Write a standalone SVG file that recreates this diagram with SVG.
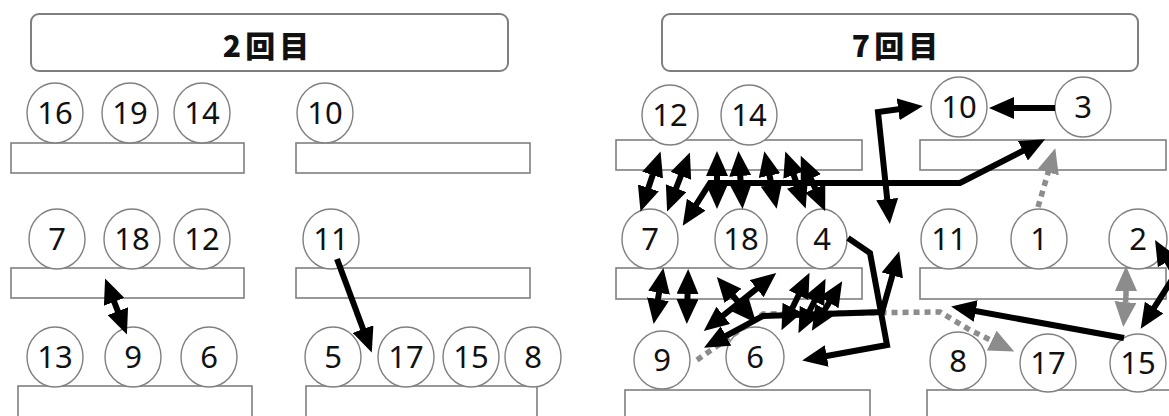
<svg xmlns="http://www.w3.org/2000/svg" width="1169" height="416" viewBox="0 0 1169 416">
<defs>
<style>
.title{fill:#fff;stroke:#7f7f7f;stroke-width:2}
.tt{font-family:"Noto Sans CJK JP","Noto Sans",sans-serif;font-weight:900;font-size:30px;letter-spacing:4px;text-anchor:middle;fill:#111}
.bar{fill:#fff;stroke:#7f7f7f;stroke-width:1.6}
.p ellipse{fill:#fff;stroke:#808080;stroke-width:1.4}
.p text{font-family:"Noto Sans","Open Sans",sans-serif;font-size:31px;text-anchor:middle;fill:#111}
.a{fill:none;stroke:#000;stroke-width:6;stroke-linejoin:miter}
.s{marker-end:url(#ah)}
.d{marker-start:url(#ah);marker-end:url(#ah)}
.g{fill:none;stroke:#8c8c8c;stroke-width:5.5;stroke-dasharray:6 5}
</style>
<marker id="ah" viewBox="0 0 25 22" refX="17" refY="11" markerWidth="25" markerHeight="22" markerUnits="userSpaceOnUse" orient="auto-start-reverse"><path d="M0,0 L25,11 L0,22 z" fill="#000"/></marker>
<marker id="gh" viewBox="0 0 25 22" refX="17" refY="11" markerWidth="25" markerHeight="22" markerUnits="userSpaceOnUse" orient="auto-start-reverse"><path d="M0,0 L25,11 L0,22 z" fill="#8c8c8c"/></marker>
</defs>
<rect width="1169" height="416" fill="#fff"/>

<!-- Left panel -->
<g id="title-2"><rect class="title" x="31" y="14" width="477" height="57" rx="8"/><text class="tt" x="268" y="57">2回目</text></g>
<g id="bars-left">
<rect class="bar" x="11" y="143" width="233" height="30"/>
<rect class="bar" x="296" y="143" width="234" height="30"/>
<rect class="bar" x="11" y="268" width="233" height="30"/>
<rect class="bar" x="296" y="268" width="234" height="30"/>
<rect class="bar" x="18" y="386" width="234" height="40"/>
<rect class="bar" x="306" y="386" width="231" height="40"/>
</g>
<g id="l16" class="p"><ellipse cx="55" cy="113" rx="28" ry="30"/><text x="55" y="124">16</text></g>
<g id="l19" class="p"><ellipse cx="130" cy="113" rx="28" ry="30"/><text x="130" y="124">19</text></g>
<g id="l14" class="p"><ellipse cx="202" cy="113" rx="28" ry="30"/><text x="202" y="124">14</text></g>
<g id="l10" class="p"><ellipse cx="325" cy="113" rx="28" ry="30"/><text x="325" y="124">10</text></g>
<g id="l7" class="p"><ellipse cx="57" cy="239" rx="28" ry="30"/><text x="57" y="250">7</text></g>
<g id="l18" class="p"><ellipse cx="132" cy="239" rx="28" ry="30"/><text x="132" y="250">18</text></g>
<g id="l12" class="p"><ellipse cx="202" cy="239" rx="28" ry="30"/><text x="202" y="250">12</text></g>
<g id="l11" class="p"><ellipse cx="331" cy="239" rx="28" ry="30"/><text x="331" y="250">11</text></g>
<g id="l13" class="p"><ellipse cx="55" cy="357" rx="28" ry="30"/><text x="55" y="368">13</text></g>
<g id="l9" class="p"><ellipse cx="133" cy="357" rx="28" ry="30"/><text x="133" y="368">9</text></g>
<g id="l6" class="p"><ellipse cx="209" cy="357" rx="28" ry="30"/><text x="209" y="368">6</text></g>
<g id="l5" class="p"><ellipse cx="333" cy="357" rx="28" ry="30"/><text x="333" y="368">5</text></g>
<g id="l17" class="p"><ellipse cx="406" cy="357" rx="28" ry="30"/><text x="406" y="368">17</text></g>
<g id="l15" class="p"><ellipse cx="471" cy="357" rx="28" ry="30"/><text x="471" y="368">15</text></g>
<g id="l8" class="p"><ellipse cx="533" cy="357" rx="28" ry="30"/><text x="533" y="368">8</text></g>

<!-- Right panel -->
<g id="title-7"><rect class="title" x="662" y="14" width="476" height="57" rx="8"/><text class="tt" x="897" y="57">7回目</text></g>
<g id="bars-right">
<rect class="bar" x="616" y="140" width="246" height="30"/>
<rect class="bar" x="920" y="140" width="246" height="30"/>
<rect class="bar" x="616" y="268" width="246" height="31"/>
<rect class="bar" x="920" y="268" width="246" height="31"/>
<rect class="bar" x="625" y="390" width="245" height="40"/>
<rect class="bar" x="927" y="390" width="250" height="40"/>
</g>
<g id="r12" class="p"><ellipse cx="670" cy="115" rx="28" ry="30"/><text x="670" y="126">12</text></g>
<g id="r14" class="p"><ellipse cx="749" cy="115" rx="28" ry="30"/><text x="749" y="126">14</text></g>
<g id="r10" class="p"><ellipse cx="959" cy="107" rx="28" ry="30"/><text x="959" y="118">10</text></g>
<g id="r3" class="p"><ellipse cx="1083" cy="107" rx="28" ry="30"/><text x="1083" y="118">3</text></g>
<g id="r7" class="p"><ellipse cx="650" cy="239" rx="28" ry="30"/><text x="650" y="250">7</text></g>
<g id="r18" class="p"><ellipse cx="741" cy="239" rx="26" ry="30"/><text x="741" y="250">18</text></g>
<g id="r4" class="p"><ellipse cx="822" cy="239" rx="25" ry="30"/><text x="822" y="250">4</text></g>
<g id="r11" class="p"><ellipse cx="949" cy="239" rx="28" ry="30"/><text x="949" y="250">11</text></g>
<g id="r1" class="p"><ellipse cx="1039" cy="239" rx="28" ry="30"/><text x="1039" y="250">1</text></g>
<g id="r2" class="p"><ellipse cx="1138" cy="239" rx="29" ry="30"/><text x="1138" y="250">2</text></g>
<g id="r9" class="p"><ellipse cx="662" cy="360" rx="28" ry="29"/><text x="662" y="371">9</text></g>
<g id="r6" class="p"><ellipse cx="755" cy="357" rx="29" ry="30"/><text x="755" y="368">6</text></g>
<g id="r8" class="p"><ellipse cx="958" cy="361" rx="28" ry="29"/><text x="958" y="372">8</text></g>
<g id="r17" class="p"><ellipse cx="1048" cy="363" rx="28" ry="29"/><text x="1048" y="374">17</text></g>
<g id="r15" class="p"><ellipse cx="1138" cy="363" rx="28" ry="29"/><text x="1138" y="374">15</text></g>

<g id="connectors">
<!-- left panel -->
<line class="a d" x1="108" y1="286" x2="124" y2="327"/>
<line class="a s" x1="337" y1="259" x2="369" y2="345"/>
<!-- right panel gray dotted -->
<polyline class="g" points="697,360 763,314 940,312 970,330 1007,348" marker-end="url(#gh)"/>
<line class="g" x1="1038" y1="207" x2="1053" y2="156" marker-end="url(#gh)"/>
<line class="g" x1="1126" y1="296" x2="1126" y2="274" marker-end="url(#gh)"/>
<line class="g" x1="1126" y1="296" x2="1124" y2="319"  marker-end="url(#gh)"/>
<!-- row1-row2 cluster -->
<line class="a d" x1="658" y1="159" x2="643" y2="204"/>
<line class="a d" x1="687" y1="160" x2="670" y2="204"/>
<line class="a d" x1="717" y1="159" x2="717" y2="201"/>
<line class="a d" x1="739" y1="159" x2="742" y2="201"/>
<line class="a d" x1="766" y1="159" x2="775" y2="201"/>
<line class="a d" x1="788" y1="159" x2="803" y2="201"/>
<line class="a d" x1="804" y1="163" x2="822" y2="204"/>
<polyline class="a d" points="687,219 710,183 960,183 1038,143"/>
<!-- 3 to 10 -->
<line class="a s" x1="1055" y1="108" x2="997" y2="108"/>
<polyline class="a d" points="915,107 878,112 889,216"/>
<!-- row2-row3 cluster -->
<line class="a d" x1="662" y1="276" x2="655" y2="316"/>
<line class="a d" x1="688" y1="277" x2="687" y2="316"/>
<line class="a d" x1="722" y1="283" x2="751" y2="317"/>
<line class="a d" x1="770" y1="278" x2="710" y2="326"/>
<line class="a d" x1="806" y1="280" x2="785" y2="323"/>
<line class="a d" x1="822" y1="286" x2="802" y2="326"/>
<line class="a d" x1="838" y1="288" x2="816" y2="324"/>
<polyline class="a d" points="711,344 763,316 882,312 897,259"/>
<polyline class="a s" points="848,238 870,253 887,345 810,359"/>
<!-- right side -->
<line class="a s" x1="1124" y1="338" x2="959" y2="308"/>
<polyline class="a d" points="1159,247 1175,275 1145,322"/>
</g>
</svg>
